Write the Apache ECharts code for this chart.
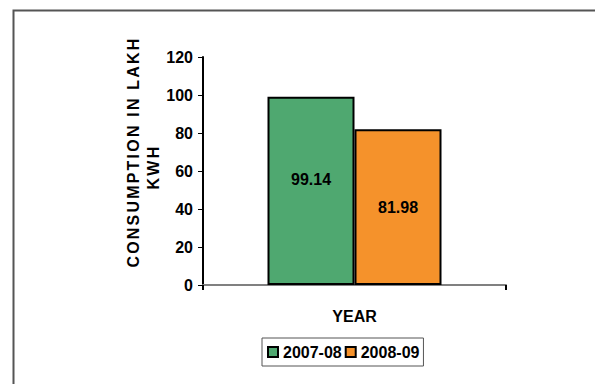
<!DOCTYPE html>
<html>
<head>
<meta charset="utf-8">
<style>
  html, body { margin: 0; padding: 0; background: #fff; }
  #chart { width: 595px; height: 384px; }
</style>
<script src="https://cdn.jsdelivr.net/npm/echarts@6/dist/echarts.min.js"></script>
</head>
<body>
<div id="chart"></div>
<script>
// Electricity consumption by financial year (lakh kWh)
const categories = ['YEAR'];
const seriesNames = ['2007-08', '2008-09'];
const consumption2007 = [99.14];
const consumption2008 = [81.98];
const yTicks = { min: 0, max: 120, interval: 20 };
const yAxisTitle = ['CONSUMPTION IN LAKH', 'KWH'];

const FONT = "'Liberation Sans', Arial, sans-serif";
const titleFont = { fontFamily: FONT, fontSize: 16, fontWeight: 'bold', color: '#000', lineHeight: 20 };
const chart = echarts.init(document.getElementById('chart'), null, { renderer: 'svg' });

chart.setOption({
  animation: false,
  backgroundColor: '#ffffff',
  graphic: [{
    type: 'rect',
    left: 11, top: 8,
    shape: { width: 583, height: 400 },
    style: { fill: 'none', stroke: '#555555', lineWidth: 2 },
    silent: true
  }],
  grid: { left: 203, top: 57, right: 89, bottom: 99 },
  legend: {
    left: 262, top: 338,
    itemWidth: 10, itemHeight: 10, itemGap: 3,
    padding: [6, 4, 6, 5],
    borderColor: '#555555', borderWidth: 1,
    textStyle: { fontFamily: FONT, fontSize: 16, fontWeight: 'bold', color: '#000' },
    data: seriesNames.map(n => ({ name: n, icon: 'rect' }))
  },
  xAxis: {
    type: 'category',
    data: categories,
    axisLine: { lineStyle: { color: '#808080', width: 2 } },
    axisTick: { show: true, length: 5, lineStyle: { color: '#000', width: 2 } },
    axisLabel: { margin: 23, fontFamily: FONT, fontSize: 16, fontWeight: 'bold', color: '#000' }
  },
  yAxis: {
    type: 'value',
    min: yTicks.min, max: yTicks.max, interval: yTicks.interval,
    name: '{t|' + yAxisTitle[0] + '}\n{k|' + yAxisTitle[1] + '}',
    nameLocation: 'middle',
    nameGap: 40,
    nameMoveOverlap: false,
    nameTextStyle: {
      ...titleFont,
      padding: [0, 0, 0, 38],
      rich: {
        t: { ...titleFont },
        k: { ...titleFont, padding: [0, 30, 0, 0] }
      }
    },
    splitLine: { show: false },
    axisLine: { show: true, lineStyle: { color: '#000', width: 2 } },
    axisTick: { show: true, length: 5, lineStyle: { color: '#000', width: 1 } },
    axisLabel: { margin: 10, fontFamily: FONT, fontSize: 16, fontWeight: 'bold', color: '#000' }
  },
  series: [{
    name: seriesNames[0],
    type: 'bar',
    data: consumption2007,
    barWidth: 87,
    barGap: '0%',
    itemStyle: { color: '#4fa870', borderColor: '#000', borderWidth: 2 },
    label: {
      show: true, position: 'inside', offset: [0, -11],
      fontFamily: FONT, fontSize: 16, fontWeight: 'bold', color: '#000'
    }
  }, {
    name: seriesNames[1],
    type: 'bar',
    data: consumption2008,
    barWidth: 87,
    itemStyle: { color: '#f5922b', borderColor: '#000', borderWidth: 2 },
    label: {
      show: true, position: 'inside',
      fontFamily: FONT, fontSize: 16, fontWeight: 'bold', color: '#000'
    }
  }]
});

// The vertical axis title is set in spaced capitals.
function spaceAxisTitle() {
  document.querySelectorAll('#chart svg text').forEach(t => {
    if (yAxisTitle.includes(t.textContent)) {
      t.style.letterSpacing = '2.2px';
    }
  });
}
spaceAxisTitle();
chart.on('finished', spaceAxisTitle);
</script>
</body>
</html>
